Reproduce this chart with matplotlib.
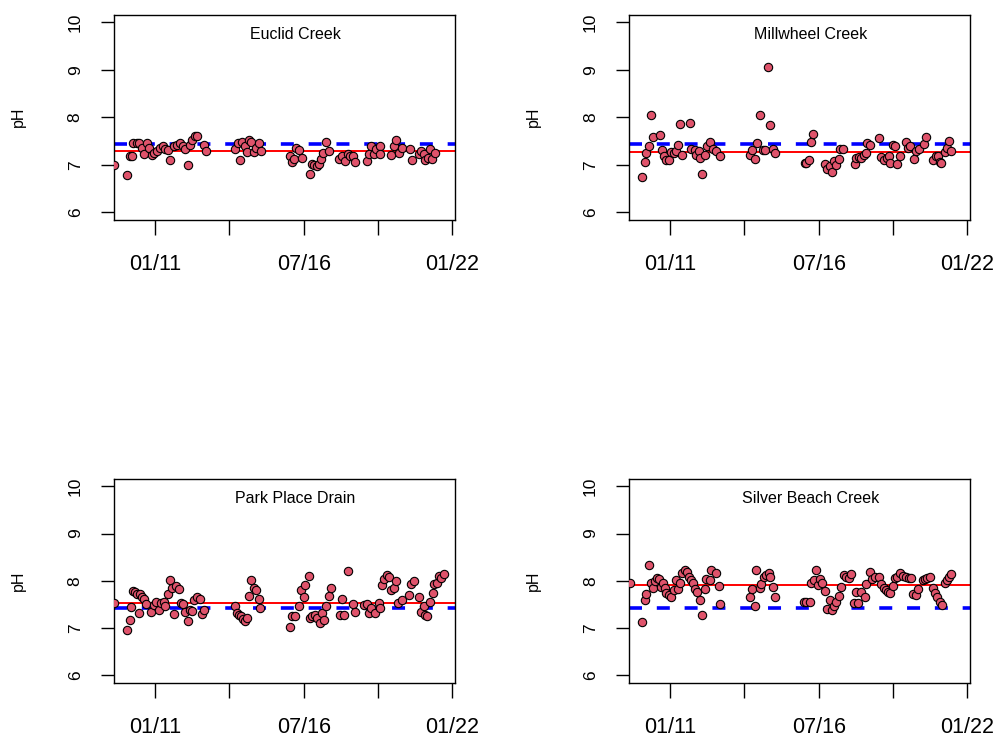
import matplotlib
matplotlib.use("Agg")
import matplotlib.pyplot as plt

plt.rcParams['font.family'] = ['Liberation Sans', 'DejaVu Sans']

# pH readings, x in decimal years
euclid_x = [2009.48, 2009.95, 2010.05, 2010.13, 2010.17, 2010.32, 2010.38, 2010.51, 2010.57, 2010.69,
            2010.75, 2010.88, 2010.96, 2011.06, 2011.16, 2011.28, 2011.37, 2011.46, 2011.56, 2011.68,
            2011.80, 2011.93, 2012.03, 2012.11, 2012.20, 2012.27, 2012.36, 2012.48, 2012.55, 2012.82,
            2012.89,
            2013.97, 2014.05, 2014.13, 2014.21, 2014.31, 2014.40, 2014.46, 2014.55, 2014.65, 2014.75,
            2014.83, 2014.92,
            2015.98, 2016.07, 2016.15, 2016.23, 2016.32, 2016.44, 2016.75, 2016.81, 2016.90, 2017.00,
            2017.06, 2017.14, 2017.22, 2017.34, 2017.43,
            2017.80, 2017.92, 2018.05, 2018.13, 2018.23, 2018.33, 2018.42, 2018.85, 2018.91, 2019.00,
            2019.10, 2019.20, 2019.32, 2019.34, 2019.74, 2019.84, 2019.94, 2020.02, 2020.15, 2020.43,
            2020.52, 2020.77, 2020.85, 2020.95, 2021.01, 2021.10, 2021.17, 2021.26, 2021.38]
euclid_ph = [6.99, 6.78, 7.18, 7.19, 7.45, 7.45, 7.46, 7.35, 7.23, 7.45,
             7.35, 7.21, 7.25, 7.28, 7.35, 7.39, 7.33, 7.31, 7.11, 7.39,
             7.42, 7.46, 7.40, 7.33, 6.99, 7.42, 7.53, 7.61, 7.60, 7.42,
             7.28,
             7.33, 7.46, 7.09, 7.47, 7.40, 7.26, 7.53, 7.47, 7.26, 7.35,
             7.45, 7.28,
             7.19, 7.06, 7.13, 7.35, 7.31, 7.14, 6.81, 7.02, 6.99, 6.97,
             7.02, 7.12, 7.25, 7.47, 7.28,
             7.13, 7.19, 7.07, 7.23, 7.19, 7.19, 7.05, 7.07, 7.23, 7.39,
             7.23, 7.33, 7.39, 7.23, 7.21, 7.39, 7.53, 7.25, 7.35, 7.33,
             7.11, 7.23, 7.28, 7.23, 7.09, 7.14, 7.33, 7.12, 7.25]

millwheel_x = [2009.96, 2010.05, 2010.11, 2010.20, 2010.30, 2010.36, 2010.63, 2010.70, 2010.77, 2010.85,
               2010.95, 2011.04, 2011.12, 2011.22, 2011.28, 2011.35, 2011.44, 2011.72, 2011.78, 2011.90,
               2011.96, 2012.05, 2012.12, 2012.19, 2012.27, 2012.36, 2012.48, 2012.58, 2012.68, 2012.85,
               2013.97, 2014.04, 2014.13, 2014.21, 2014.31, 2014.44, 2014.50, 2014.62, 2014.71, 2014.81,
               2014.88,
               2015.98, 2016.04, 2016.14, 2016.23, 2016.29, 2016.72, 2016.81, 2016.91, 2017.01, 2017.07,
               2017.16, 2017.25, 2017.30, 2017.40, 2017.84, 2017.90, 2017.99, 2018.08, 2018.17, 2018.24,
               2018.31, 2018.39, 2018.74, 2018.82, 2018.91, 2019.03, 2019.11, 2019.16, 2019.26, 2019.32,
               2019.41, 2019.50, 2019.73, 2019.81, 2019.90, 2020.02, 2020.12, 2020.21, 2020.39, 2020.49,
               2020.74, 2020.84, 2020.93, 2020.99, 2021.05, 2021.17, 2021.26, 2021.33, 2021.42]
millwheel_ph = [6.74, 7.05, 7.24, 7.39, 8.04, 7.59, 7.63, 7.31, 7.18, 7.09,
                7.09, 7.26, 7.24, 7.28, 7.42, 7.85, 7.21, 7.87, 7.33, 7.31,
                7.21, 7.28, 7.14, 6.81, 7.21, 7.39, 7.47, 7.33, 7.28, 7.18,
                7.21, 7.31, 7.12, 7.45, 8.04, 7.31, 7.31, 9.05, 7.83, 7.33,
                7.25,
                7.04, 7.04, 7.09, 7.47, 7.65, 7.02, 6.90, 6.97, 6.85, 7.07,
                7.00, 7.12, 7.33, 7.33, 7.02, 7.14, 7.16, 7.14, 7.21, 7.24,
                7.46, 7.41, 7.56, 7.16, 7.11, 7.14, 7.19, 7.04, 7.41, 7.39,
                7.02, 7.19, 7.48, 7.35, 7.39, 7.12, 7.28, 7.33, 7.44, 7.59,
                7.09, 7.19, 7.18, 7.06, 7.04, 7.26, 7.35, 7.51, 7.30]

parkplace_x = [2009.48, 2009.95, 2010.07, 2010.11, 2010.17, 2010.26, 2010.32, 2010.38, 2010.44, 2010.51,
               2010.57, 2010.65, 2010.84, 2010.94, 2011.02, 2011.12, 2011.21, 2011.31, 2011.37, 2011.46,
               2011.53, 2011.62, 2011.70, 2011.78, 2011.89, 2011.95, 2012.03, 2012.09, 2012.20, 2012.27,
               2012.36, 2012.45, 2012.55, 2012.64, 2012.73, 2012.82,
               2013.97, 2014.03, 2014.09, 2014.18, 2014.25, 2014.34, 2014.40, 2014.46, 2014.55, 2014.65,
               2014.75, 2014.83, 2014.89,
               2016.01, 2016.07, 2016.19, 2016.32, 2016.40, 2016.50, 2016.56, 2016.69, 2016.72, 2016.81,
               2016.93, 2016.99, 2017.09, 2017.18, 2017.26, 2017.34, 2017.43, 2017.51, 2017.84, 2017.92,
               2018.01, 2018.14, 2018.32, 2018.42, 2018.73, 2018.85, 2018.91, 2019.00, 2019.16, 2019.28,
               2019.34, 2019.41, 2019.47, 2019.59, 2019.65, 2019.74, 2019.84, 2019.94, 2019.99, 2020.15,
               2020.39, 2020.48, 2020.58, 2020.77, 2020.85, 2020.95, 2021.01, 2021.07, 2021.20, 2021.28,
               2021.35, 2021.45, 2021.51, 2021.59, 2021.72]
parkplace_ph = [7.54, 6.97, 7.18, 7.44, 7.79, 7.76, 7.73, 7.33, 7.72, 7.66,
                7.61, 7.52, 7.35, 7.49, 7.56, 7.39, 7.54, 7.56, 7.46, 7.73,
                8.01, 7.85, 7.31, 7.89, 7.82, 7.54, 7.52, 7.34, 7.16, 7.38,
                7.37, 7.60, 7.67, 7.61, 7.30, 7.39,
                7.46, 7.32, 7.28, 7.25, 7.20, 7.16, 7.21, 7.68, 8.01, 7.85,
                7.81, 7.61, 7.42,
                7.02, 7.25, 7.25, 7.46, 7.81, 7.67, 7.92, 8.11, 7.21, 7.25,
                7.28, 7.21, 7.12, 7.32, 7.18, 7.46, 7.68, 7.85, 7.28, 7.61,
                7.28, 8.20, 7.51, 7.34, 7.48, 7.51, 7.32, 7.42, 7.32, 7.54,
                7.42, 7.92, 8.04, 8.13, 8.09, 7.81, 7.85, 7.99, 7.54, 7.60,
                7.71, 7.94, 7.99, 7.67, 7.35, 7.46, 7.28, 7.25, 7.56, 7.74,
                7.94, 7.95, 8.11, 8.06, 8.14]

silverbeach_x = [2009.49, 2009.96, 2010.05, 2010.11, 2010.20, 2010.27, 2010.36, 2010.42, 2010.51, 2010.58,
                 2010.64, 2010.73, 2010.79, 2010.85, 2010.95, 2011.04, 2011.12, 2011.20, 2011.28, 2011.35,
                 2011.43, 2011.53, 2011.62, 2011.69, 2011.78, 2011.84, 2011.90, 2011.99, 2012.09, 2012.19,
                 2012.27, 2012.33, 2012.46, 2012.52, 2012.68, 2012.80, 2012.85,
                 2013.97, 2014.04, 2014.13, 2014.19, 2014.31, 2014.37, 2014.46, 2014.56, 2014.66, 2014.71,
                 2014.81, 2014.88,
                 2015.94, 2016.04, 2016.17, 2016.23, 2016.32, 2016.39, 2016.48, 2016.56, 2016.63, 2016.72,
                 2016.81, 2016.91, 2016.99, 2017.07, 2017.16, 2017.25, 2017.34, 2017.43, 2017.53, 2017.63,
                 2017.71, 2017.80, 2017.87, 2017.96, 2018.08, 2018.21, 2018.27, 2018.39, 2018.49, 2018.58,
                 2018.74, 2018.82, 2018.91, 2019.01, 2019.07, 2019.16, 2019.26, 2019.32, 2019.41, 2019.50,
                 2019.63, 2019.75, 2019.85, 2019.94, 2020.00, 2020.10, 2020.18, 2020.35, 2020.43, 2020.53,
                 2020.64, 2020.74, 2020.80, 2020.89, 2020.99, 2021.09, 2021.17, 2021.26, 2021.33, 2021.42]
silverbeach_ph = [7.96, 7.14, 7.60, 7.72, 8.33, 7.96, 7.85, 7.99, 8.06, 8.04,
                  7.88, 7.95, 7.85, 7.74, 7.71, 7.66, 7.80, 8.02, 7.82, 7.95,
                  8.16, 8.23, 8.18, 8.09, 8.01, 7.95, 7.82, 7.76, 7.60, 7.28,
                  7.82, 8.04, 8.02, 8.23, 8.16, 7.89, 7.52,
                  7.67, 7.82, 7.47, 8.22, 7.85, 7.94, 8.09, 8.13, 8.16, 8.08,
                  7.88, 7.67,
                  7.56, 7.56, 7.55, 7.95, 8.02, 8.23, 7.92, 8.04, 7.95, 7.78,
                  7.41, 7.59, 7.39, 7.46, 7.56, 7.68, 7.88, 8.13, 8.08, 8.06,
                  8.15, 7.53, 7.76, 7.54, 7.76, 7.67, 7.94, 8.18, 8.04, 8.08,
                  8.09, 7.94, 7.85, 7.80, 7.76, 7.74, 7.89, 8.06, 8.09, 8.16,
                  8.11, 8.08, 8.06, 8.06, 7.72, 7.71, 7.82, 8.02, 8.04, 8.06,
                  8.09, 7.85, 7.74, 7.67, 7.56, 7.49, 7.96, 8.02, 8.09, 8.15]

sites = ["Euclid Creek", "Millwheel Creek", "Park Place Drain", "Silver Beach Creek"]
site_x = [euclid_x, millwheel_x, parkplace_x, silverbeach_x]
site_ph = [euclid_ph, millwheel_ph, parkplace_ph, silverbeach_ph]
site_median = [7.30, 7.27, 7.54, 7.92]
reference_ph = 7.43

xtick_pos = [2011.0, 2013.75, 2016.5, 2019.25, 2022.0]
xtick_labels = ["01/11", "", "07/16", "", "01/22"]
ytick_pos = [6, 7, 8, 9, 10]

fig = plt.figure(figsize=(10, 7.4), dpi=100)
posiciones = [[0.114, 0.703, 0.341, 0.277], [0.629, 0.703, 0.341, 0.277],
              [0.114, 0.077, 0.341, 0.276], [0.629, 0.077, 0.341, 0.276]]

for i in range(4):
    ax = fig.add_axes(posiciones[i])
    ax.scatter(site_x[i], site_ph[i], s=36, c="#DF536B", edgecolors="black",
               linewidths=0.8, zorder=3, clip_on=True)
    ax.axhline(reference_ph, color="blue", lw=2.6, dashes=(3.6, 4.1), zorder=2)
    ax.axhline(site_median[i], color="red", lw=1.4, zorder=2)
    ax.set_xlim(2009.47, 2022.11)
    ax.set_ylim(5.84, 10.16)
    ax.set_xticks(xtick_pos)
    ax.set_xticklabels(xtick_labels, fontsize=15.5)
    ax.set_yticks(ytick_pos)
    ax.set_yticklabels([str(v) for v in ytick_pos], fontsize=12.5)
    for lbl in ax.get_yticklabels():
        lbl.set_rotation(90)
        lbl.set_va("center")
        lbl.set_ha("right")
    ax.tick_params(axis="x", direction="out", length=10.5, width=1.0, pad=14)
    ax.tick_params(axis="y", direction="out", length=9.5, width=1.0, pad=13)
    for sp in ax.spines.values():
        sp.set_linewidth(1.0)
    ax.set_ylabel("pH", fontsize=11.5)
    ax.yaxis.set_label_coords(-0.258, 0.5)
    ax.text(0.532, 0.902, sites[i], transform=ax.transAxes, ha="center",
            va="center", fontsize=11.5)

fig.savefig("out.png", dpi=100)
